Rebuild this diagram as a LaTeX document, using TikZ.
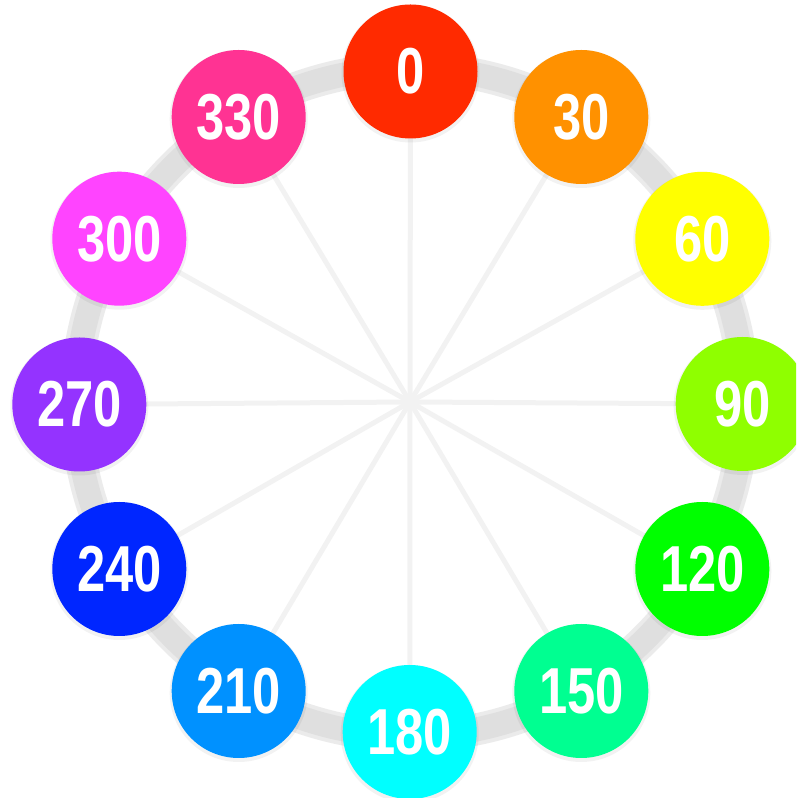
\documentclass[tikz,border=0pt]{standalone}
\usepackage{graphicx}
\usepackage{fontspec}
\setmainfont{Liberation Sans}
\newcommand\hlbl[1]{\scalebox{0.78}[1]{\bfseries #1}}
\definecolor{h0}{HTML}{FF2A00}
\definecolor{h30}{HTML}{FF9100}
\definecolor{h60}{HTML}{FFFF00}
\definecolor{h90}{HTML}{8FFF00}
\definecolor{h120}{HTML}{00FF00}
\definecolor{h150}{HTML}{00FF91}
\definecolor{h180}{HTML}{00FFFF}
\definecolor{h210}{HTML}{0091FF}
\definecolor{h240}{HTML}{0026FF}
\definecolor{h270}{HTML}{9433FF}
\definecolor{h300}{HTML}{FF44FF}
\definecolor{h330}{HTML}{FF3393}
\definecolor{ringsoft}{HTML}{EBEBEB}
\definecolor{ringgray}{HTML}{DFDFDF}
\definecolor{spokegray}{HTML}{F2F2F2}
\begin{document}
\begin{tikzpicture}[x=1pt,y=1pt,
  huedot/.style={circle, minimum size=134pt, inner sep=0pt, fill=#1, text=white,
    font=\fontsize{65}{65}\selectfont},
  halo/.style={fill=black, fill opacity=0.05},
  spoke/.style={draw=spokegray, line width=5pt},
  ringsoftline/.style={draw=ringsoft, line width=32pt},
  ringline/.style={draw=ringgray, line width=24pt}]
\useasboundingbox (0,0) rectangle (796,798);
\clip (0,0) rectangle (796,798);
\coordinate (c) at (410,396);
\coordinate (p0) at (410.5,726.5);
\coordinate (p30) at (581.3,681);
\coordinate (p60) at (702.3,559.2);
\coordinate (p90) at (742.7,394);
\coordinate (p120) at (702.3,229);
\coordinate (p150) at (581.3,107);
\coordinate (p180) at (409.7,66);
\coordinate (p210) at (238.7,107);
\coordinate (p240) at (119.3,229);
\coordinate (p270) at (79.3,393.5);
\coordinate (p300) at (119.3,559.3);
\coordinate (p330) at (238.7,681);
\foreach \a in {0,30,...,330}{
  \draw[spoke] (c) -- (p\a);
}
\draw[ringsoftline] (c) circle (334pt);
\draw[ringline] (c) circle (334pt);
\foreach \a in {0,30,...,330}{
  \fill[halo] ([yshift=-2pt]p\a) circle (69pt);
}
\foreach \a in {0,30,...,330}{
  \node[huedot=h\a] (n\a) at (p\a) {\hlbl{\a}};
}
\end{tikzpicture}
\end{document}
